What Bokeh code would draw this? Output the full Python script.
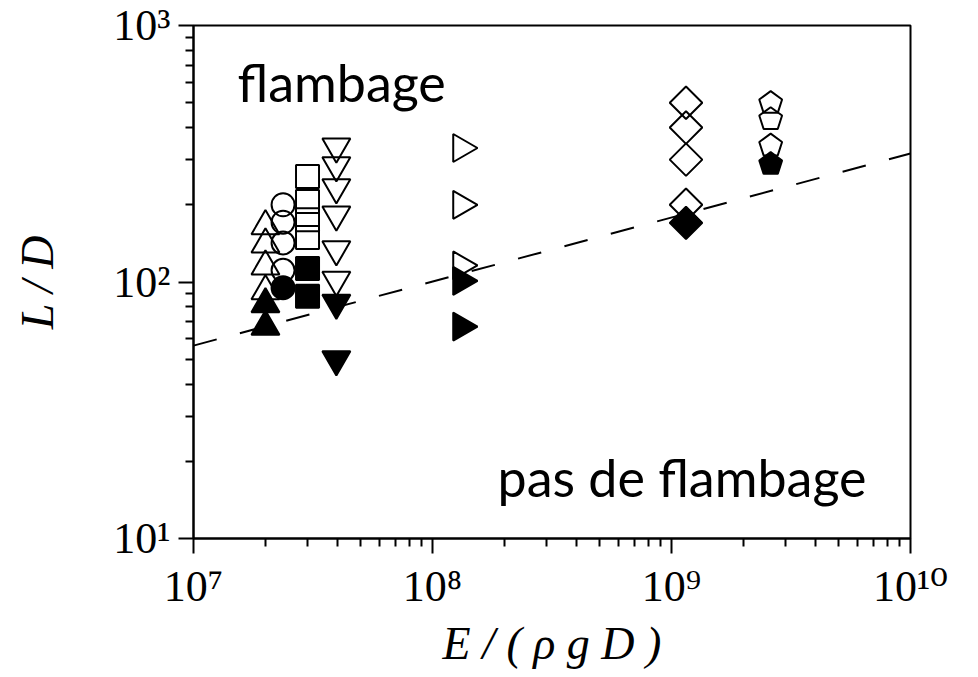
import math
from bokeh.plotting import figure
from bokeh.models import Label, FixedTicker
from bokeh.embed import file_html
from bokeh.resources import INLINE

# ---------------- data ----------------
tri_up_x = 2.0e7
tri_up_open = [165, 140, 115, 92]
tri_up_filled = [82, 67]

circ_x = 2.37e7
circ_open = [200, 171, 142, 111]
circ_filled = [95]

sq_x = 3.0e7
sq_open = [258, 206, 175, 149]
sq_filled = [113, 88]

tri_dn_x = 3.96e7
tri_dn_open = [337, 285, 234, 183, 134, 102]
tri_dn_filled = [83, 50]

tri_rt_x = 1.32e8
tri_rt_open = [333, 200, 116]
tri_rt_filled = [101, 67]

dia_x = 1.15e9
dia_open = [500, 400, 300, 200]
dia_filled = [170]

pent_x = 2.6e9
pent_open = [498, 431, 340]
pent_filled = [288]

fit_x = [1e7, 1e10]
fit_y = [56.5, 317]

x_major = [1e7, 1e8, 1e9, 1e10]
x_tick_labels = ["10\u2077", "10\u2078", "10\u2079", "10\u00b9\u2070"]
y_major = [10, 100, 1000]
y_tick_labels = ["10\u00b9", "10\u00b2", "10\u00b3"]
x_minor = [m * 10 ** k for k in range(7, 10) for m in range(2, 10)]
y_minor = [m * 10 ** k for k in range(1, 3) for m in range(2, 10)]

# ---------------- layout (pixels) ----------------
W, H = 978, 677
FL, FR, FT, FB = 193, 910, 25, 538   # frame edges (from left / top)

p = figure(width=W, height=H, x_axis_type="log", y_axis_type="log",
           x_range=(1e7, 1e10), y_range=(10, 1000),
           output_backend="svg", toolbar_location=None,
           min_border_left=FL, min_border_right=W - FR,
           min_border_top=FT, min_border_bottom=H - FB)
p.background_fill_color = "white"
p.border_fill_color = "white"
p.grid.visible = False
p.outline_line_color = "black"
p.outline_line_width = 2

SERIF = "'Liberation Serif', 'DejaVu Serif', serif"

p.xaxis.ticker = FixedTicker(ticks=x_major, minor_ticks=x_minor)
p.yaxis.ticker = FixedTicker(ticks=y_major, minor_ticks=y_minor)
p.xaxis.major_label_overrides = dict(zip(x_major, x_tick_labels))
p.yaxis.major_label_overrides = dict(zip(y_major, y_tick_labels))
for ax in (p.xaxis, p.yaxis):
    ax.axis_line_width = 2
    ax.axis_line_color = "black"
    ax.major_tick_line_width = 2
    ax.minor_tick_line_width = 2
    ax.major_tick_in = 0
    ax.major_tick_out = 15
    ax.minor_tick_in = 0
    ax.minor_tick_out = 8
    ax.major_label_text_font = SERIF
    ax.major_label_text_font_size = "44px"
    ax.major_label_text_color = "black"
    ax.axis_label_text_font = SERIF
    ax.axis_label_text_font_style = "italic"
    ax.axis_label_text_font_size = "46px"
    ax.axis_label_text_color = "black"

p.xaxis.major_label_standoff = 8
p.xaxis.axis_label = "E / ( ρ g D )"
p.xaxis.axis_label_standoff = 4
p.yaxis.major_label_standoff = 8
p.yaxis.axis_label = "L / D"
p.yaxis.axis_label_standoff = 47

# fit line
p.line(fit_x, fit_y, line_color="black", line_width=2, line_dash="24 24")

LW = 2
p.scatter([tri_up_x] * len(tri_up_open), tri_up_open, marker="triangle", size=28,
          fill_color=None, line_color="black", line_width=LW)
p.scatter([tri_up_x] * len(tri_up_filled), tri_up_filled, marker="triangle", size=28,
          fill_color="black", line_color="black", line_width=LW)
p.scatter([circ_x] * len(circ_open), circ_open, marker="circle", size=23,
          fill_color=None, line_color="black", line_width=LW)
p.scatter([circ_x] * len(circ_filled), circ_filled, marker="circle", size=23,
          fill_color="black", line_color="black", line_width=LW)
p.scatter([sq_x] * len(sq_open), sq_open, marker="square", size=23,
          fill_color=None, line_color="black", line_width=LW)
p.scatter([sq_x] * len(sq_filled), sq_filled, marker="square", size=23,
          fill_color="black", line_color="black", line_width=LW)
p.scatter([tri_dn_x] * len(tri_dn_open), tri_dn_open, marker="inverted_triangle", size=28,
          fill_color=None, line_color="black", line_width=LW)
p.scatter([tri_dn_x] * len(tri_dn_filled), tri_dn_filled, marker="inverted_triangle", size=28,
          fill_color="black", line_color="black", line_width=LW)
p.scatter([tri_rt_x] * len(tri_rt_open), tri_rt_open, marker="triangle", size=28, angle=-math.pi / 2,
          fill_color=None, line_color="black", line_width=LW)
p.scatter([tri_rt_x] * len(tri_rt_filled), tri_rt_filled, marker="triangle", size=28, angle=-math.pi / 2,
          fill_color="black", line_color="black", line_width=LW)
p.scatter([dia_x] * len(dia_open), dia_open, marker="square", size=23, angle=math.pi / 4,
          fill_color=None, line_color="black", line_width=LW)
p.scatter([dia_x] * len(dia_filled), dia_filled, marker="square", size=23, angle=math.pi / 4,
          fill_color="black", line_color="black", line_width=LW)
p.ngon(x=[pent_x] * len(pent_open), y=pent_open, radius=12, radius_units="screen", n=5,
       angle=0, fill_color=None, line_color="black", line_width=LW)
p.ngon(x=[pent_x] * len(pent_filled), y=pent_filled, radius=12, radius_units="screen", n=5,
       angle=0, fill_color="black", line_color="black", line_width=LW)

# region annotations (canvas pixels from top-left)
p.add_layout(Label(x=237, y=81, x_units="canvas", y_units="canvas", text="flambage",
                   text_align="left", text_baseline="alphabetic", text_font="Lato",
                   text_font_size="52px", text_color="black"))
p.add_layout(Label(x=497, y=476, x_units="canvas", y_units="canvas", text="pas de flambage",
                   text_align="left", text_baseline="alphabetic", text_font="Lato",
                   text_font_size="52px", text_color="black"))

open("out.html", "w").write(file_html(p, INLINE))
